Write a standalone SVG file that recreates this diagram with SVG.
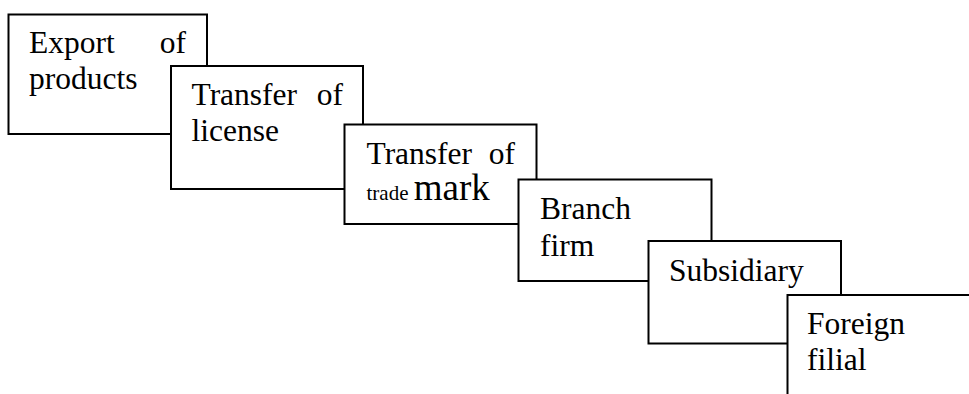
<svg xmlns="http://www.w3.org/2000/svg" width="969" height="394" viewBox="0 0 969 394">
<style>
.box{fill:#fff;stroke:#000;stroke-width:2}
text{font-family:'Liberation Serif','DejaVu Serif',serif;font-size:31.5px;fill:#000}
.e{text-anchor:end}
</style>
<rect width="969" height="394" fill="#fff"/>
<g id="connectors"></g>
<g id="n1">
<rect class="box" x="8.5" y="14.5" width="198.5" height="119.5"/>
<text font-family="Liberation Serif, serif" x="29" y="53">Export</text>
<text font-family="Liberation Serif, serif" class="e" x="186" y="53">of</text>
<text font-family="Liberation Serif, serif" x="29" y="89">products</text>
</g>
<g id="n2">
<rect class="box" x="171" y="66" width="192" height="123"/>
<text font-family="Liberation Serif, serif" x="191.5" y="105">Transfer</text>
<text font-family="Liberation Serif, serif" class="e" x="343" y="105">of</text>
<text font-family="Liberation Serif, serif" x="191.5" y="141">license</text>
</g>
<g id="n3">
<rect class="box" x="344.5" y="124.5" width="192" height="99.5"/>
<text font-family="Liberation Serif, serif" x="366.5" y="164">Transfer</text>
<text font-family="Liberation Serif, serif" class="e" x="515" y="164">of</text>
<text font-family="Liberation Serif, serif" x="366.5" y="200"><tspan font-size="21">trade </tspan><tspan font-size="37">mark</tspan></text>
</g>
<g id="n4">
<rect class="box" x="518.5" y="179.5" width="193" height="101.5"/>
<text font-family="Liberation Serif, serif" x="540" y="219">Branch</text>
<text font-family="Liberation Serif, serif" x="540" y="256">firm</text>
</g>
<g id="n5">
<rect class="box" x="648.5" y="241" width="192.5" height="102.5"/>
<text font-family="Liberation Serif, serif" x="669" y="281">Subsidiary</text>
</g>
<g id="n6">
<path class="box" d="M787.5 400 V295 H975"/>
<text font-family="Liberation Serif, serif" x="807" y="334">Foreign</text>
<text font-family="Liberation Serif, serif" x="807" y="370">filial</text>
</g>
</svg>
